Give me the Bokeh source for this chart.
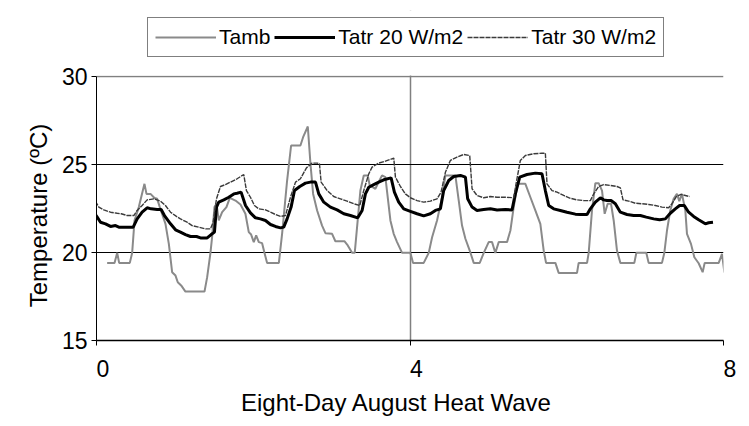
import math
from bokeh.plotting import figure
from bokeh.models import (Range1d, FixedTicker, Legend, LegendItem, Grid, BoxAnnotation)
from bokeh.embed import file_html
from bokeh.resources import INLINE

# ---------------- data (days, degC) ----------------
tamb_x = [0.136, 0.230, 0.264, 0.289, 0.425, 0.455, 0.485, 0.540, 0.612, 0.638, 0.689, 0.740, 0.774, 0.808,
          0.880, 0.923, 0.965, 1.008, 1.037, 1.080, 1.135, 1.378, 1.412, 1.454, 1.475, 1.505, 1.531, 1.560,
          1.603, 1.658, 1.701, 1.773, 1.837, 1.900, 1.943, 1.973, 2.007, 2.037, 2.071, 2.113, 2.143, 2.177,
          2.327, 2.368, 2.432, 2.483, 2.602, 2.636, 2.696, 2.730, 2.764, 2.815, 2.878, 2.921, 3.006, 3.048,
          3.163, 3.206, 3.261, 3.295, 3.367, 3.410, 3.461, 3.486, 3.558, 3.643, 3.686, 3.750, 3.792, 3.835,
          3.899, 4.005, 4.039, 4.175, 4.239, 4.282, 4.345, 4.409, 4.452, 4.579, 4.622, 4.664, 4.707, 4.762,
          4.813, 4.890, 4.941, 5.004, 5.047, 5.089, 5.132, 5.238, 5.281, 5.323, 5.374, 5.472, 5.536, 5.599,
          5.663, 5.706, 5.736, 5.855, 5.897, 6.131, 6.152, 6.259, 6.280, 6.322, 6.365, 6.407, 6.450, 6.484,
          6.522, 6.565, 6.599, 6.641, 6.684, 6.862, 6.888, 7.015, 7.045, 7.215, 7.245, 7.279, 7.321, 7.364,
          7.406, 7.436, 7.470, 7.513, 7.534, 7.585, 7.628, 7.683, 7.734, 7.760, 7.939, 7.981, 8.011, 8.130]
tamb_y = [19.41, 19.41, 19.98, 19.41, 19.41, 19.98, 21.82, 22.58, 23.90, 23.33, 23.33, 23.10, 23.05, 22.58,
          21.63, 20.49, 18.88, 18.69, 18.31, 18.13, 17.78, 17.78, 18.60, 19.98, 20.87, 22.58, 22.77, 21.82,
          22.29, 22.58, 23.10, 22.95, 22.73, 22.20, 21.16, 21.02, 20.59, 20.97, 20.59, 20.53, 19.98, 19.41,
          19.41, 21.06, 24.09, 26.08, 26.08, 26.55, 27.16, 25.04, 23.33, 22.39, 21.53, 21.10, 21.06, 20.64,
          20.64, 20.40, 19.98, 19.98, 23.52, 24.38, 24.38, 23.81, 23.62, 24.38, 24.28, 21.82, 21.06, 20.59,
          19.98, 19.98, 19.41, 19.41, 19.98, 20.87, 21.82, 23.14, 24.38, 24.38, 22.95, 21.53, 20.78, 20.11,
          19.41, 19.41, 19.98, 20.59, 20.59, 19.98, 20.59, 20.59, 21.25, 22.58, 23.90, 23.90, 23.14, 22.39,
          21.63, 20.11, 19.41, 19.41, 18.84, 18.84, 19.41, 19.41, 19.98, 22.39, 23.94, 23.94, 23.52, 22.20,
          22.77, 22.77, 21.82, 20.11, 19.41, 19.41, 19.98, 19.98, 19.41, 19.41, 19.98, 21.25, 22.39, 23.05,
          23.33, 22.92, 23.33, 22.39, 21.06, 20.49, 19.73, 19.39, 18.88, 19.41, 19.41, 19.92, 18.88, 18.88]

tatr20_x = [-0.077, -0.034, 0.009, 0.051, 0.115, 0.179, 0.242, 0.285, 0.349, 0.412, 0.468, 0.519, 0.582, 0.646,
            0.697, 0.774, 0.825, 0.867, 0.944, 1.008, 1.071, 1.135, 1.199, 1.276, 1.327, 1.412, 1.463, 1.505,
            1.531, 1.560, 1.624, 1.688, 1.752, 1.794, 1.845, 1.901, 1.964, 2.028, 2.092, 2.156, 2.220, 2.283,
            2.347, 2.389, 2.432, 2.483, 2.526, 2.594, 2.666, 2.730, 2.794, 2.836, 2.900, 2.985, 3.070, 3.155,
            3.240, 3.333, 3.389, 3.431, 3.474, 3.537, 3.601, 3.665, 3.759, 3.801, 3.856, 3.920, 4.005, 4.090,
            4.175, 4.260, 4.324, 4.388, 4.430, 4.494, 4.558, 4.643, 4.707, 4.736, 4.792, 4.855, 4.940, 5.026,
            5.111, 5.217, 5.302, 5.344, 5.400, 5.493, 5.599, 5.684, 5.727, 5.770, 5.833, 5.918, 6.003, 6.110,
            6.173, 6.259, 6.301, 6.365, 6.429, 6.471, 6.514, 6.565, 6.620, 6.684, 6.769, 6.854, 6.939, 7.015,
            7.109, 7.185, 7.258, 7.321, 7.385, 7.440, 7.500, 7.555, 7.619, 7.683, 7.768, 7.810, 7.866]
tatr20_y = [22.39, 22.29, 22.01, 21.72, 21.63, 21.48, 21.53, 21.44, 21.44, 21.44, 21.44, 21.91, 22.29, 22.54,
            22.48, 22.44, 22.44, 22.10, 21.63, 21.29, 21.16, 21.02, 20.91, 20.91, 20.83, 20.83, 21.02, 21.16,
            22.58, 22.86, 22.99, 23.14, 23.33, 23.37, 23.43, 22.67, 22.25, 21.97, 21.91, 21.82, 21.59, 21.48,
            21.40, 21.44, 21.91, 22.58, 23.52, 23.75, 23.94, 24.00, 24.00, 23.33, 22.86, 22.58, 22.42, 22.20,
            22.10, 21.97, 22.39, 23.33, 23.71, 23.86, 24.00, 24.13, 24.24, 23.43, 22.86, 22.48, 22.34, 22.20,
            22.08, 22.20, 22.39, 22.48, 23.52, 24.09, 24.32, 24.38, 24.28, 23.05, 22.58, 22.39, 22.44, 22.48,
            22.42, 22.44, 22.42, 23.33, 24.28, 24.43, 24.51, 24.47, 23.52, 22.67, 22.48, 22.39, 22.29, 22.18,
            22.16, 22.16, 22.48, 22.86, 23.11, 22.99, 22.95, 22.95, 22.77, 22.29, 22.16, 22.10, 22.10, 22.01,
            21.91, 21.86, 21.91, 22.23, 22.48, 22.67, 22.67, 22.29, 22.05, 21.86, 21.63, 21.69, 21.72]

tatr30_x = [-0.077, -0.026, 0.030, 0.094, 0.179, 0.264, 0.315, 0.391, 0.476, 0.519, 0.582, 0.646, 0.731, 0.816,
            0.880, 0.944, 1.020, 1.071, 1.156, 1.220, 1.305, 1.390, 1.454, 1.488, 1.531, 1.582, 1.645, 1.709,
            1.794, 1.879, 1.913, 1.964, 2.015, 2.071, 2.156, 2.220, 2.283, 2.347, 2.411, 2.475, 2.539, 2.602,
            2.679, 2.751, 2.815, 2.845, 2.866, 2.943, 3.027, 3.112, 3.197, 3.282, 3.359, 3.410, 3.474, 3.516,
            3.601, 3.686, 3.793, 3.814, 3.878, 3.941, 4.005, 4.090, 4.175, 4.260, 4.345, 4.396, 4.452, 4.515,
            4.600, 4.685, 4.762, 4.792, 4.855, 4.940, 5.026, 5.111, 5.217, 5.323, 5.357, 5.408, 5.472, 5.578,
            5.684, 5.727, 5.748, 5.812, 5.876, 5.961, 6.046, 6.131, 6.216, 6.301, 6.344, 6.407, 6.471, 6.556,
            6.641, 6.684, 6.718, 6.790, 6.875, 6.960, 7.045, 7.130, 7.215, 7.300, 7.343, 7.398, 7.457, 7.513,
            7.568]
tatr30_y = [23.11, 22.99, 22.58, 22.42, 22.29, 22.23, 22.20, 22.10, 22.10, 22.39, 22.67, 22.99, 23.05, 22.92,
            22.67, 22.29, 22.05, 21.91, 21.72, 21.53, 21.44, 21.34, 21.34, 21.72, 23.05, 23.75, 23.86, 24.00,
            24.19, 24.43, 23.52, 23.14, 22.67, 22.48, 22.42, 22.29, 22.16, 22.05, 22.10, 23.14, 24.00, 24.19,
            24.81, 25.08, 25.08, 25.04, 24.00, 23.52, 23.18, 23.05, 22.92, 22.77, 22.67, 23.52, 24.47, 24.85,
            25.08, 25.19, 25.36, 24.28, 23.75, 23.33, 23.11, 22.95, 22.86, 22.92, 23.05, 23.43, 24.56, 25.23,
            25.42, 25.57, 25.51, 23.62, 23.24, 23.11, 23.18, 23.14, 23.14, 23.11, 24.00, 25.23, 25.51, 25.61,
            25.64, 25.64, 23.90, 23.52, 23.43, 23.24, 23.08, 22.99, 22.95, 22.95, 23.33, 23.75, 23.86, 23.81,
            23.75, 23.67, 22.99, 22.92, 22.80, 22.77, 22.73, 22.67, 22.58, 22.54, 22.77, 23.18, 23.30, 23.24,
            23.18]

series_names = ["Tamb", "Tatr 20 W/m2", "Tatr 30 W/m2"]
x_ticks = [0, 4, 8]
x_tick_labels = ["0", "4", "8"]
y_ticks = [15, 20, 25, 30]
x_title = "Eight-Day August Heat Wave"
y_title = "Temperature (ºC)"

FONT = "Liberation Sans"
NBSP = "\u00a0"
Y_MIN, Y_MAX = 15, 30
# frame reaches up into the chart-area header so the legend sits inside it
PX_PER_DEG = 17.6
HEADER_PX = 66
y_top = Y_MAX + HEADER_PX / PX_PER_DEG

p = figure(width=741, height=426, output_backend="svg", toolbar_location=None, title=None,
           x_range=Range1d(0, 8), y_range=Range1d(Y_MIN, y_top),
           min_border_left=96, min_border_right=18, min_border_top=10, min_border_bottom=86)
p.background_fill_color = "white"
p.border_fill_color = "white"
p.outline_line_color = None

# grids
p.ygrid.ticker = FixedTicker(ticks=[t for t in y_ticks if Y_MIN < t < Y_MAX])
p.ygrid.grid_line_color = "black"
p.ygrid.grid_line_width = 1
p.xgrid.ticker = FixedTicker(ticks=[t for t in x_ticks if t > x_ticks[0]])
p.xgrid.grid_line_color = "#808080"
p.xgrid.grid_line_width = 1.5
top_grid = Grid(dimension=1, ticker=FixedTicker(ticks=[Y_MAX]),
                grid_line_color="#808080", grid_line_width=1.5)
p.add_layout(top_grid)

# axes
for ax in (p.xaxis[0], p.yaxis[0]):
    ax.axis_line_color = "black"
    ax.axis_line_width = 1
    ax.major_tick_line_color = "black"
    ax.major_tick_out = 5
    ax.major_tick_in = 0
    ax.minor_tick_out = 0
    ax.minor_tick_in = 0
    ax.major_label_text_font = FONT
    ax.major_label_text_font_size = "23px"
    ax.major_label_text_color = "black"
    ax.axis_label_text_font = FONT
    ax.axis_label_text_font_size = "24px"
    ax.axis_label_text_font_style = "normal"
    ax.axis_label_text_color = "black"
p.yaxis.ticker = FixedTicker(ticks=y_ticks)
p.yaxis.bounds = (Y_MIN, Y_MAX)
p.yaxis.major_label_standoff = 4
# trailing no-break spaces keep the title centred on the 15-30 axis, not the taller frame
p.yaxis.axis_label = y_title + NBSP * 12
p.yaxis.axis_label_standoff = 7
p.xaxis.ticker = FixedTicker(ticks=x_ticks)
p.xaxis.major_label_overrides = {t: NBSP * 2 + lab for t, lab in zip(x_ticks, x_tick_labels)}
p.xaxis.major_label_standoff = 10
p.xaxis.axis_line_width = 1.5
p.xaxis.axis_label = x_title + NBSP * 4
p.xaxis.axis_label_standoff = 4

# series
r_amb = p.line(tamb_x, tamb_y, line_color="#8a8a8a", line_width=2)
r_20 = p.line(tatr20_x, tatr20_y, line_color="black", line_width=3)
r_30 = p.line(tatr30_x, tatr30_y, line_color="#3a3a3a", line_width=1.4, line_dash="5 1")

# blank header strip above the plot area (hides grid lines there)
p.add_layout(BoxAnnotation(bottom=Y_MAX + 1.0 / PX_PER_DEG, fill_color="white", fill_alpha=1,
                           line_color=None))

legend = Legend(items=[LegendItem(label=series_names[0], renderers=[r_amb]),
                       LegendItem(label=series_names[1], renderers=[r_20]),
                       LegendItem(label=series_names[2], renderers=[r_30])],
                orientation="horizontal", location=(51, 283),
                border_line_color="black", border_line_width=1, background_fill_color="white",
                background_fill_alpha=1,
                label_text_font=FONT, label_text_font_size="21px", label_text_color="black",
                glyph_width=61, glyph_height=24, label_height=24, label_standoff=3,
                spacing=4, padding=7, margin=0)
p.add_layout(legend, "center")

open("out.html", "w").write(file_html(p, INLINE))
